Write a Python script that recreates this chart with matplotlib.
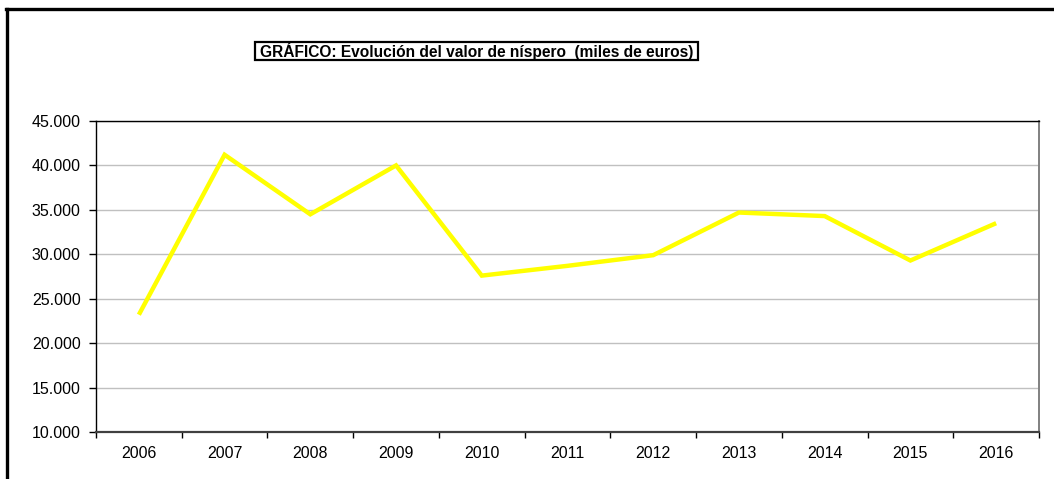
import matplotlib
matplotlib.use("Agg")
import matplotlib.pyplot as plt
from matplotlib.ticker import FuncFormatter, FixedLocator
from matplotlib.lines import Line2D
from matplotlib.patches import Rectangle

years = ["2006", "2007", "2008", "2009", "2010", "2011", "2012", "2013", "2014", "2015", "2016"]
values = [23200, 41200, 34500, 40000, 27600, 28700, 29900, 34700, 34300, 29300, 33500]
yticks = [10000, 15000, 20000, 25000, 30000, 35000, 40000, 45000]
title = "GRÁFICO: Evolución del valor de níspero  (miles de euros)"

plt.rcParams['font.family'] = ['Liberation Sans', 'DejaVu Sans']

W, H = 1054, 479
fig = plt.figure(figsize=(W / 100, H / 100), dpi=100)
fig.patch.set_facecolor('white')

l, r, t, b = 96, 1039, 121, 432
ax = fig.add_axes([l / W, (H - b) / H, (r - l) / W, (b - t) / H])

x = list(range(len(years)))
ax.plot(x, values, color='#FFFF00', linewidth=3.2, solid_joinstyle='miter', solid_capstyle='butt', zorder=3)

ax.set_xlim(-0.5, len(years) - 0.5)
ax.set_ylim(10000, 45000)
ax.set_yticks(yticks)
ax.yaxis.set_major_formatter(FuncFormatter(lambda v, p: f"{v:,.0f}".replace(",", ".")))
ax.grid(axis='y', color='#c0c0c0', linewidth=1.0, zorder=1)
ax.set_axisbelow(True)

ax.set_xticks(x)
ax.set_xticklabels(years)
ax.xaxis.set_minor_locator(FixedLocator([i - 0.5 for i in range(len(years) + 1)]))
ax.tick_params(axis='x', which='major', length=0, pad=10, labelsize=11.5, colors='black')
ax.tick_params(axis='x', which='minor', length=4, width=1, color='black')
ax.tick_params(axis='y', which='major', length=5, width=1, color='black', pad=6, labelsize=11.5)

ax.spines['left'].set_color('black')
ax.spines['left'].set_linewidth(1.0)
ax.spines['top'].set_color('black')
ax.spines['top'].set_linewidth(1.0)
ax.spines['bottom'].set_color('#404040')
ax.spines['bottom'].set_linewidth(1.6)
ax.spines['right'].set_color('#808080')
ax.spines['right'].set_linewidth(1.4)

# outer frame (right and bottom cut off)
fig.add_artist(Line2D([7 / W, 7 / W], [0, (H - 9) / H], color='black', linewidth=2.4, transform=fig.transFigure))
fig.add_artist(Line2D([5.8 / W, 1], [(H - 9) / H, (H - 9) / H], color='black', linewidth=2.4, transform=fig.transFigure))

# title box
bx0, bx1, by0, by1 = 255, 698, 42, 60
fig.add_artist(Rectangle((bx0 / W, (H - by1) / H), (bx1 - bx0) / W, (by1 - by0) / H,
                         fill=False, edgecolor='black', linewidth=1.6, transform=fig.transFigure))
fig.text((bx0 + bx1) / 2 / W, (H - (by0 + by1) / 2) / H, title, ha='center', va='center',
         fontsize=11.2, fontweight='bold')

fig.savefig('out.png', dpi=100, facecolor='white')
